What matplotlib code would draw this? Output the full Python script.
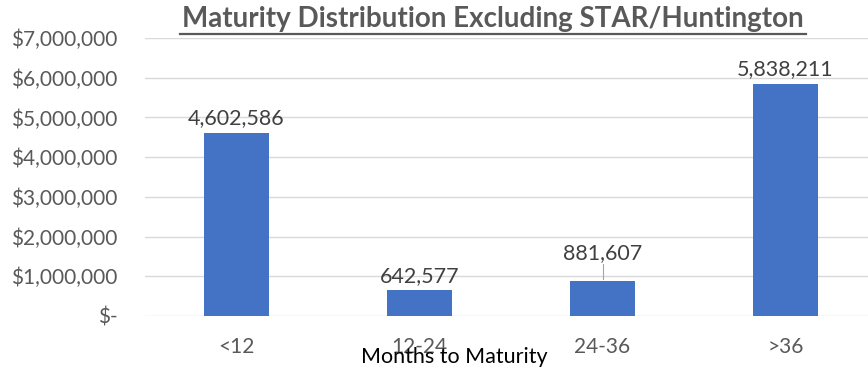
import matplotlib.pyplot as plt
import matplotlib.ticker as mticker
from matplotlib.lines import Line2D

plt.rcParams['font.family'] = ['Lato', 'DejaVu Sans']

categories = ['<12', '12-24', '24-36', '>36']
amounts = [4602586, 642577, 881607, 5838211]
# extra lift (in dollars) for labels that sit above a leader line
label_lift = [0, 0, 320000, 0]

fig = plt.figure(figsize=(8.68, 3.71), dpi=100)
ax = fig.add_axes([145 / 868, 55 / 371, 732 / 868, 278 / 371])

x = range(len(categories))
ax.bar(x, amounts, width=0.355, color='#4472C4', zorder=3)
ax.set_xlim(-0.5, 3.5)
ax.set_ylim(0, 7000000)
ax.set_yticks(range(0, 7000001, 1000000))

def money(v, pos):
    return '$-' if v == 0 else '${:,.0f}'.format(v)

ax.yaxis.set_major_formatter(mticker.FuncFormatter(money))
ax.set_xticks(list(x))
ax.set_xticklabels(categories)
ax.grid(axis='y', color='#D9D9D9', linewidth=1, zorder=0)
for s in ax.spines.values():
    s.set_visible(False)
ax.tick_params(length=0, labelsize=15, labelcolor='#595959')
ax.tick_params(axis='x', pad=15)
ax.tick_params(axis='y', pad=20)

for i, v in enumerate(amounts):
    ax.text(i, v + 120000 + label_lift[i], '{:,.0f}'.format(v), ha='center', va='bottom',
            fontsize=15.5, color='#404040', zorder=4)
    if label_lift[i]:
        ax.plot([i, i], [v + 60000, v + 420000], color='#A6A6A6', linewidth=0.8, zorder=4)

fig.text(493 / 868, 1 - 19 / 371, 'Maturity Distribution Excluding STAR/Huntington',
         ha='center', va='center', fontsize=20, fontweight='bold', color='#595959')
fig.add_artist(Line2D([180 / 868, 806 / 868], [1 - 34 / 371, 1 - 34 / 371],
                      color='#595959', linewidth=1.6, transform=fig.transFigure))

fig.text(454 / 868, 1 - 357 / 371, 'Months to Maturity', ha='center', va='center',
         fontsize=15.5, color='black')

fig.savefig('out.png', dpi=100)
